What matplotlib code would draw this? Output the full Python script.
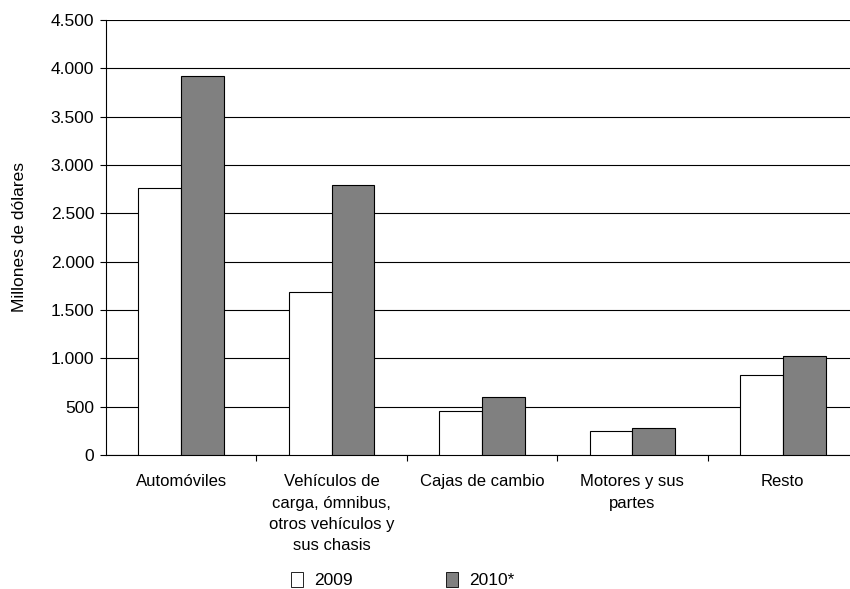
import matplotlib.pyplot as plt
import numpy as np
from matplotlib.patches import Patch
from matplotlib.ticker import FuncFormatter

plt.rcParams['font.family'] = ['Liberation Sans', 'DejaVu Sans']

# Data (millions of dollars)
categories = ['Automóviles',
              'Vehículos de\ncarga, ómnibus,\notros vehículos y\nsus chasis',
              'Cajas de cambio',
              'Motores y sus\npartes',
              'Resto']
values_2009 = [2760, 1690, 455, 248, 830]
values_2010 = [3920, 2790, 598, 279, 1025]
series_names = ['2009', '2010*']

fig = plt.figure(figsize=(8.5, 5.89), dpi=100)
ax = fig.add_axes([106 / 850, 1 - 455 / 589, 752 / 850, 435 / 589])

x = np.arange(len(categories))
w = 0.285
ax.bar(x - w / 2, values_2009, width=w, color='white', edgecolor='black', linewidth=0.8, zorder=3)
ax.bar(x + w / 2, values_2010, width=w, color='#808080', edgecolor='black', linewidth=0.8, zorder=3)

ax.set_xlim(-0.5, len(categories) - 0.5)
ax.set_ylim(0, 4500)
ax.set_yticks(np.arange(0, 4501, 500))
ax.yaxis.set_major_formatter(FuncFormatter(lambda v, p: f'{int(v):,}'.replace(',', '.')))
ax.yaxis.grid(True, color='black', linewidth=0.8)
ax.set_axisbelow(True)

ax.set_xticks(x)
ax.set_xticklabels(categories, fontsize=12, linespacing=1.52)
ax.set_xticks(np.arange(0.5, len(categories) - 0.5, 1), minor=True)
ax.tick_params(axis='x', which='major', length=0, pad=14)
ax.tick_params(axis='x', which='minor', length=4, width=0.8)
ax.tick_params(axis='y', labelsize=12.5, length=4.5, width=0.8, pad=4)

for side in ['top', 'right']:
    ax.spines[side].set_visible(False)
for side in ['left', 'bottom']:
    ax.spines[side].set_linewidth(0.8)

ax.set_ylabel('Millones de dólares', fontsize=12.5, labelpad=17)

handles = [Patch(facecolor='white', edgecolor='black', linewidth=0.6),
           Patch(facecolor='#808080', edgecolor='black', linewidth=0.6)]
fig.legend(handles, series_names, loc='upper left', bbox_to_anchor=(279 / 850, 1 - 560 / 589),
           ncol=2, frameon=False, fontsize=12.5, handlelength=0.7, handleheight=0.9,
           handletextpad=0.6, columnspacing=5.4, borderpad=0.2)

fig.savefig('out.png', dpi=100)
